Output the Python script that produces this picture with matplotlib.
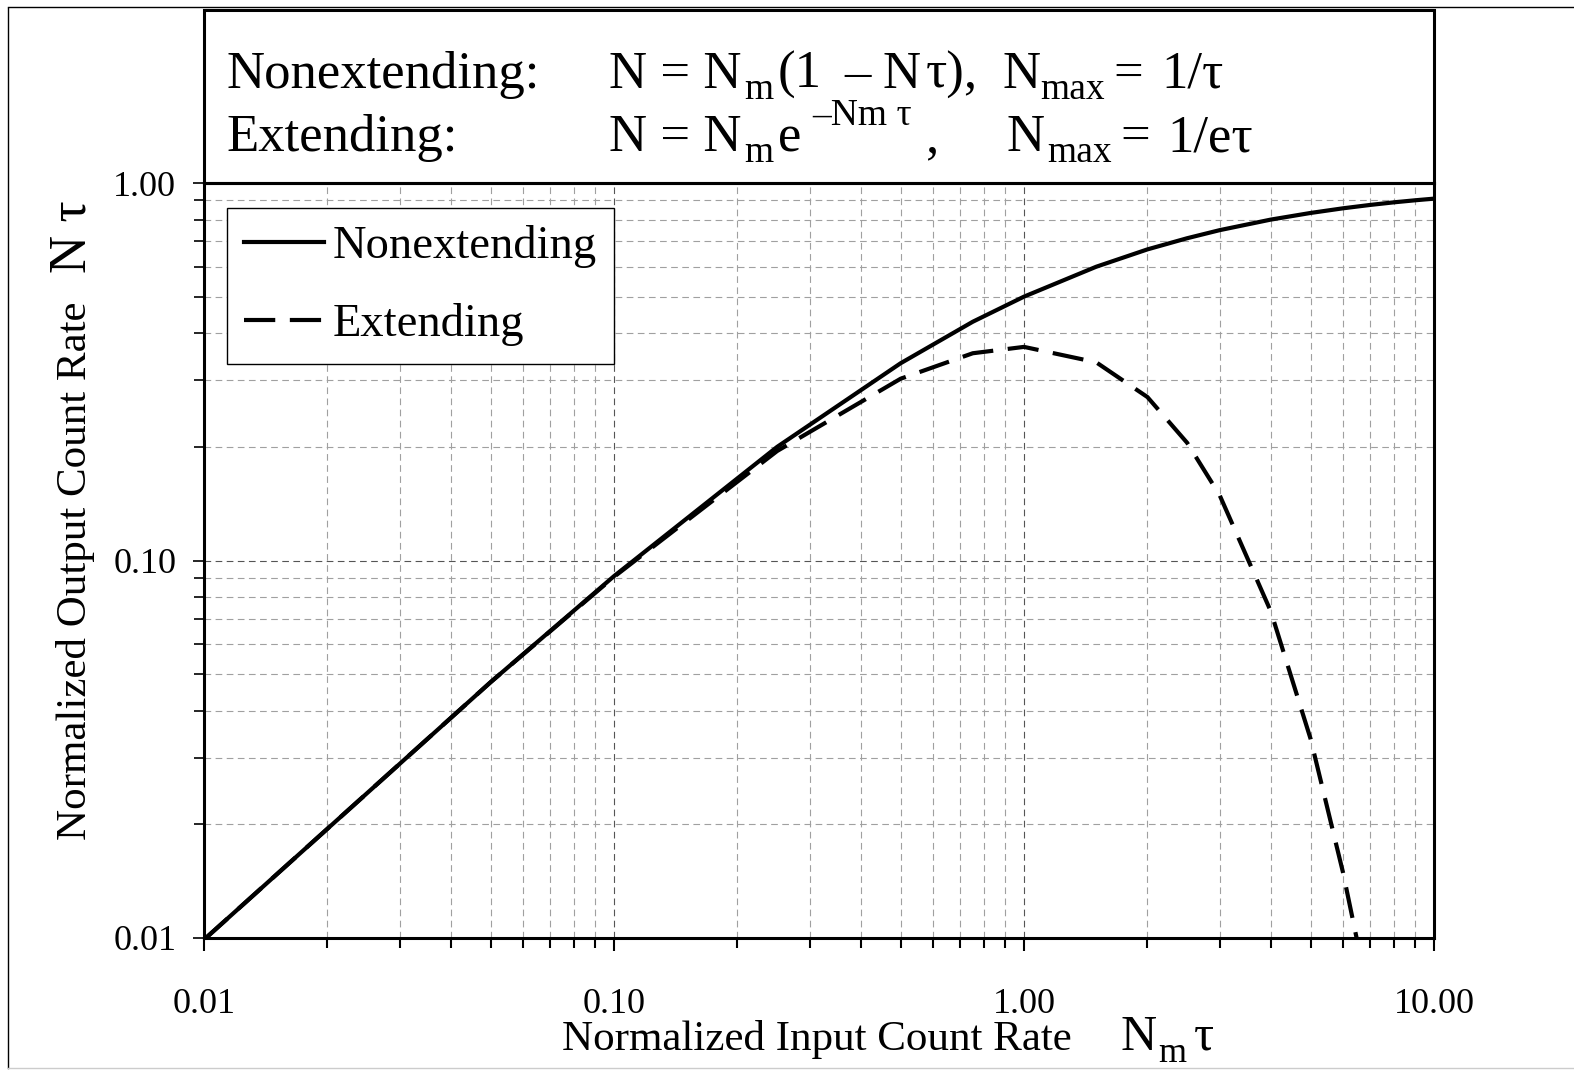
import matplotlib
matplotlib.use("Agg")
import matplotlib.pyplot as plt
from matplotlib.transforms import IdentityTransform
from matplotlib.patches import Rectangle
from matplotlib.lines import Line2D
from matplotlib.ticker import LogLocator, NullFormatter

# ---- data ----
nonext_x = [0.01, 0.05, 0.1, 0.25, 0.5, 0.75, 1.0, 1.5, 2.0, 2.5, 3.0, 4.0, 5.0, 6.0, 7.0, 8.0, 9.0, 10.0]
nonext_y = [0.0099, 0.0476, 0.0909, 0.200, 0.333, 0.429, 0.500, 0.600, 0.667, 0.714, 0.750, 0.800, 0.833, 0.857, 0.875, 0.889, 0.900, 0.909]
ext_x = [0.01, 0.05, 0.1, 0.25, 0.5, 0.75, 1.0, 1.5, 2.0, 2.5, 3.0, 4.0, 5.0, 6.0, 6.5]
ext_y = [0.0099, 0.0476, 0.0905, 0.195, 0.303, 0.354, 0.368, 0.335, 0.271, 0.205, 0.149, 0.0733, 0.0337, 0.0149, 0.0098]
x_ticks = [0.01, 0.1, 1.0, 10.0]
x_tick_labels = ["0.01", "0.10", "1.00", "10.00"]
y_ticks = [0.01, 0.1, 1.0]
y_tick_labels = ["0.01", "0.10", "1.00"]
series_names = ["Nonextending", "Extending"]

W, H = 1574, 1074
SERIF = "Liberation Serif"
plt.rcParams["font.family"] = [SERIF, "DejaVu Serif"]

fig = plt.figure(figsize=(W / 100, H / 100), dpi=100)
fig.patch.set_facecolor("white")

# outer frame
fig.add_artist(Line2D([8, 8], [H - 8, H - 1068], transform=IdentityTransform(), color="black", lw=1))
fig.add_artist(Line2D([8, W], [H - 7, H - 7], transform=IdentityTransform(), color="black", lw=1))
fig.add_artist(Line2D([8, W], [H - 1068, H - 1068], transform=IdentityTransform(), color="#cccccc", lw=1))

L, R, T, B = 204, 1434, 183, 938
ax = fig.add_axes([L / W, 1 - B / H, (R - L) / W, (B - T) / H])
ax.set_xscale("log")
ax.set_yscale("log")
ax.set_xlim(0.01, 10)
ax.set_ylim(0.01, 1)

ax.plot(nonext_x, nonext_y, color="black", lw=3.0, label=series_names[0], zorder=5)
ax.plot(ext_x, ext_y, color="black", lw=3.0, linestyle=(0, (7.5, 3.5)), label=series_names[1], zorder=5)

ax.set_xticks(x_ticks)
ax.set_xticklabels(x_tick_labels)
ax.set_yticks(y_ticks)
ax.set_yticklabels(y_tick_labels)
ax.xaxis.set_minor_locator(LogLocator(base=10, subs=range(2, 10)))
ax.yaxis.set_minor_locator(LogLocator(base=10, subs=range(2, 10)))
ax.xaxis.set_minor_formatter(NullFormatter())
ax.yaxis.set_minor_formatter(NullFormatter())

ax.tick_params(axis="x", which="both", direction="out", width=1.5, colors="black")
ax.tick_params(axis="x", which="major", length=9, pad=27, labelsize=26)
ax.tick_params(axis="x", which="minor", length=7)
ax.tick_params(axis="y", which="both", direction="out", width=1.2, length=7)
ax.tick_params(axis="y", which="major", pad=12, labelsize=26, length=8)

ax.grid(True, which="major", color="#555555", lw=0.8, linestyle=(0, (6, 4)))
ax.grid(True, which="minor", color="#a0a0a0", lw=0.8, linestyle=(0, (6, 4)))
ax.set_axisbelow(True)
for s in ax.spines.values():
    s.set_linewidth(2.2)
    s.set_color("black")

leg = ax.legend(loc="upper left", bbox_to_anchor=(0.0187, 0.967), fontsize=33.5,
                frameon=True, fancybox=False, framealpha=1, edgecolor="black",
                handlelength=1.72, handletextpad=0.18, borderpad=0.37, labelspacing=0.76,
                borderaxespad=0.0)
leg.get_frame().set_linewidth(1.0)

# header box
fig.add_artist(Rectangle((L, H - T), R - L, T - 10, transform=IdentityTransform(),
                         fill=False, edgecolor="black", lw=2.2, zorder=10))

def txt(x, y, s, size, **kw):
    return fig.text(x, H - y, s, fontsize=size, transform=IdentityTransform(),
                    ha=kw.pop("ha", "left"), va=kw.pop("va", "baseline"), family=SERIF, **kw)

BIG, SUB, SUP = 38, 27, 27
y1, y2 = 88, 151
txt(226, y1, "Nonextending:", BIG)
txt(609, y1, "N = N", BIG)
txt(744, y1 + 11, "m", SUB)
txt(778, y1, "(1", BIG)
txt(844, y1, "\u2013", BIG)
txt(882, y1, "N", BIG)
txt(926, y1, "\u03c4),", BIG)
txt(1002, y1, "N", BIG)
txt(1040, y1 + 11, "max", SUB)
txt(1113, y1, "=", BIG)
txt(1161, y1, "1/\u03c4", BIG)

txt(226, y2, "Extending:", BIG)
txt(609, y2, "N = N", BIG)
txt(744, y2 + 11, "m", SUB)
txt(778, y2, "e", BIG)
txt(812, y2 - 26, "\u2013Nm \u03c4", SUP)
txt(926, y2, ",", BIG)
txt(1007, y2, "N", BIG)
txt(1047, y2 + 11, "max", SUB)
txt(1120, y2, "=", BIG)
txt(1167, y2, "1/e\u03c4", BIG)

# x axis label
txt(562, 1050, "Normalized Input Count Rate", 31)
txt(1120, 1050, "N", 36)
txt(1158, 1062, "m", 26)
txt(1194, 1050, "\u03c4", 36)

# y axis label (rotated)
fig.text(86, H - 840, "Normalized Output Count Rate", fontsize=31, rotation=90,
         rotation_mode="anchor", ha="left", va="baseline", transform=IdentityTransform(), family=SERIF)
fig.text(86, H - 273, "N \u03c4", fontsize=38, rotation=90,
         rotation_mode="anchor", ha="left", va="baseline", transform=IdentityTransform(), family=SERIF)

fig.savefig("out.png", dpi=100)
